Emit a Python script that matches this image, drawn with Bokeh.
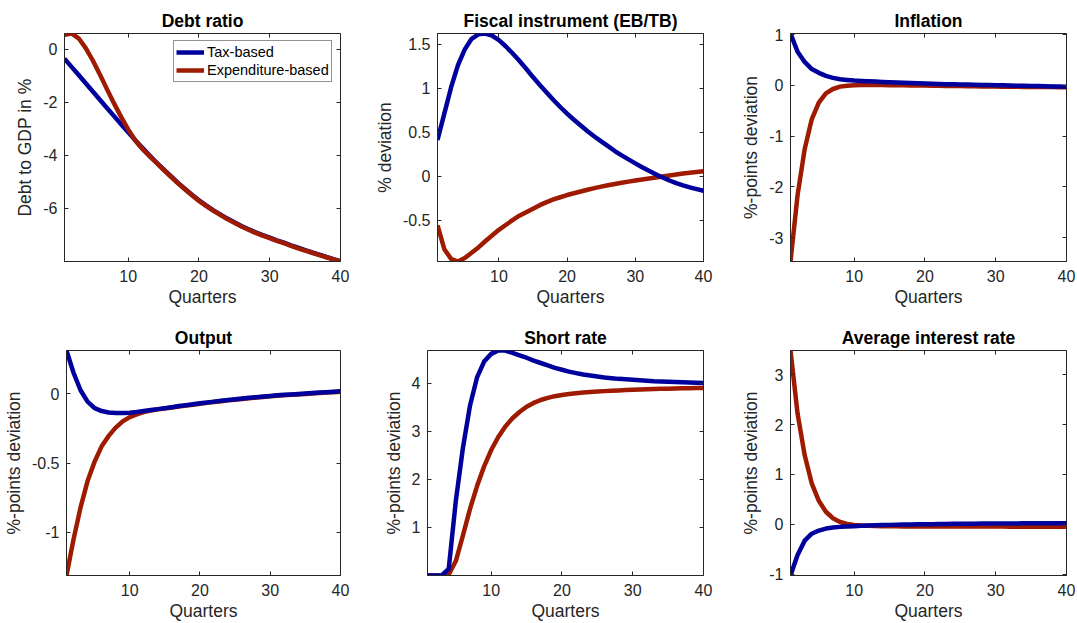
from bokeh.plotting import figure
from bokeh.models import Range1d, FixedTicker, LinearAxis, Legend, LegendItem
from bokeh.layouts import column, row
from bokeh.embed import file_html
from bokeh.resources import INLINE

# ---------------- data ----------------
quarters = list(range(1, 41))

debt_tax = [-0.35, -0.66, -0.97, -1.28, -1.59, -1.90, -2.21, -2.52, -2.83, -3.13,
            -3.43, -3.72, -4.00, -4.27, -4.53, -4.78, -5.03, -5.26, -5.49, -5.70,
            -5.89, -6.07, -6.23, -6.39, -6.53, -6.67, -6.79, -6.91, -7.01, -7.11,
            -7.21, -7.30, -7.40, -7.49, -7.58, -7.67, -7.75, -7.84, -7.92, -8.00]
debt_exp = [0.55, 0.60, 0.42, 0.05, -0.42, -0.95, -1.50, -2.04, -2.55, -3.02,
            -3.44, -3.76, -4.03, -4.29, -4.55, -4.80, -5.05, -5.28, -5.51, -5.72,
            -5.91, -6.09, -6.25, -6.41, -6.55, -6.69, -6.81, -6.93, -7.03, -7.13,
            -7.23, -7.32, -7.42, -7.51, -7.60, -7.68, -7.77, -7.85, -7.93, -8.01]

fiscal_tax = [0.41, 0.71, 1.01, 1.26, 1.44, 1.56, 1.61, 1.62, 1.595, 1.545,
              1.475, 1.395, 1.31, 1.22, 1.125, 1.035, 0.95, 0.865, 0.785, 0.71,
              0.64, 0.575, 0.51, 0.45, 0.395, 0.34, 0.285, 0.235, 0.19, 0.145,
              0.10, 0.06, 0.02, -0.015, -0.05, -0.08, -0.105, -0.128, -0.148, -0.167]
fiscal_exp = [-0.56, -0.83, -0.94, -0.97, -0.93, -0.87, -0.81, -0.74, -0.675, -0.61,
              -0.555, -0.50, -0.45, -0.41, -0.37, -0.33, -0.295, -0.265, -0.24, -0.215,
              -0.195, -0.175, -0.155, -0.137, -0.12, -0.104, -0.09, -0.076, -0.063, -0.05,
              -0.038, -0.027, -0.016, -0.004, 0.008, 0.019, 0.029, 0.038, 0.047, 0.055]

infl_tax = [1.02, 0.66, 0.46, 0.32, 0.245, 0.185, 0.146, 0.12, 0.106, 0.093,
            0.086, 0.08, 0.073, 0.066, 0.06, 0.054, 0.049, 0.044, 0.039, 0.035,
            0.031, 0.027, 0.023, 0.02, 0.017, 0.014, 0.011, 0.008, 0.005, 0.002,
            -0.001, -0.004, -0.007, -0.01, -0.013, -0.016, -0.019, -0.022, -0.025, -0.028]
infl_exp = [-3.47, -2.16, -1.26, -0.67, -0.34, -0.16, -0.073, -0.026, -0.007, 0.0,
            0.004, 0.005, 0.005, 0.004, 0.003, 0.002, 0.0, -0.002, -0.004, -0.006,
            -0.008, -0.01, -0.012, -0.014, -0.016, -0.018, -0.02, -0.022, -0.024, -0.026,
            -0.028, -0.03, -0.031, -0.032, -0.033, -0.034, -0.035, -0.036, -0.037, -0.038]

out_tax = [0.31, 0.15, 0.024, -0.058, -0.105, -0.126, -0.136, -0.14, -0.14, -0.138,
           -0.133, -0.126, -0.119, -0.112, -0.105, -0.098, -0.09, -0.084, -0.077, -0.07,
           -0.064, -0.058, -0.052, -0.046, -0.041, -0.036, -0.031, -0.026, -0.021, -0.017,
           -0.013, -0.009, -0.006, -0.003, 0.0, 0.004, 0.007, 0.01, 0.013, 0.016]
out_exp = [-1.31, -1.05, -0.82, -0.63, -0.49, -0.38, -0.305, -0.245, -0.20, -0.17,
           -0.15, -0.134, -0.122, -0.114, -0.107, -0.10, -0.093, -0.087, -0.08, -0.073,
           -0.067, -0.061, -0.055, -0.049, -0.044, -0.039, -0.034, -0.029, -0.024, -0.02,
           -0.016, -0.012, -0.009, -0.006, -0.003, 0.001, 0.004, 0.007, 0.01, 0.013]

short_tax = [0.0, 0.0, 0.0, 0.14, 1.55, 2.65, 3.53, 4.12, 4.45, 4.61,
             4.68, 4.68, 4.63, 4.58, 4.53, 4.47, 4.42, 4.37, 4.32, 4.28,
             4.24, 4.21, 4.18, 4.16, 4.14, 4.12, 4.105, 4.09, 4.08, 4.07,
             4.06, 4.05, 4.04, 4.035, 4.03, 4.025, 4.02, 4.015, 4.01, 4.005]
short_exp = [0.0, 0.0, 0.0, 0.02, 0.30, 0.83, 1.38, 1.86, 2.27, 2.61,
             2.88, 3.10, 3.27, 3.40, 3.51, 3.59, 3.65, 3.695, 3.73, 3.755,
             3.775, 3.79, 3.805, 3.815, 3.825, 3.835, 3.843, 3.85, 3.857, 3.863,
             3.868, 3.873, 3.878, 3.882, 3.886, 3.89, 3.893, 3.896, 3.899, 3.902]

avg_tax = [-1.03, -0.62, -0.33, -0.19, -0.127, -0.087, -0.067, -0.053, -0.047, -0.04,
           -0.033, -0.027, -0.022, -0.017, -0.013, -0.01, -0.007, -0.004, -0.002, 0.0,
           0.002, 0.004, 0.006, 0.008, 0.01, 0.011, 0.012, 0.013, 0.014, 0.015,
           0.016, 0.017, 0.017, 0.018, 0.018, 0.019, 0.019, 0.02, 0.02, 0.02]
avg_exp = [3.49, 2.22, 1.39, 0.82, 0.47, 0.25, 0.12, 0.047, 0.007, -0.013,
           -0.027, -0.033, -0.037, -0.04, -0.042, -0.043, -0.044, -0.045, -0.045, -0.046,
           -0.046, -0.046, -0.047, -0.047, -0.047, -0.047, -0.048, -0.048, -0.048, -0.048,
           -0.048, -0.049, -0.049, -0.049, -0.049, -0.049, -0.05, -0.05, -0.05, -0.05]

x_ticks = [10, 20, 30, 40]
series_names = ["Tax-based", "Expenditure-based"]
titles = ["Debt ratio", "Fiscal instrument (EB/TB)", "Inflation",
          "Output", "Short rate", "Average interest rate"]
ylabels = ["Debt to GDP in %", "% deviation", "%-points deviation",
           "%-points deviation", "%-points deviation", "%-points deviation"]
y_ticks = [[-6, -4, -2, 0], [-0.5, 0, 0.5, 1, 1.5], [-3, -2, -1, 0, 1],
           [-1, -0.5, 0], [1, 2, 3, 4], [-1, 0, 1, 2, 3]]

# ---------------- style ----------------
BLUE = "#00009c"
RED = "#9e1a00"
FONT = "Liberation Sans"
AX = "#262626"
LW = 4.5


def lbl(t):
    return f"{t:g}"


def make(i, tax, exp, width, height, left, right, top, bottom, red_on_top,
         xsd=8, xlsd=2, legend=False):
    ymin = min(min(tax), min(exp))
    ymax = max(max(tax), max(exp))
    p = figure(width=width, height=height, output_backend="svg", toolbar_location=None,
               x_range=Range1d(1, 40), y_range=Range1d(ymin, ymax),
               min_border_left=left, min_border_right=right,
               min_border_top=top, min_border_bottom=bottom)
    p.title.text = titles[i]
    p.title.text_font = FONT
    p.title.text_font_size = "17.5px"
    p.title.text_font_style = "bold"
    p.title.text_color = "#000000"
    p.title.align = "center"
    p.title.standoff = 5
    p.xgrid.visible = False
    p.ygrid.visible = False
    p.outline_line_color = AX
    p.outline_line_width = 1
    p.background_fill_color = "white"
    p.border_fill_color = "white"

    for ax, ticks, sd in ((p.xaxis[0], x_ticks, xsd), (p.yaxis[0], y_ticks[i], 7)):
        ax.ticker = FixedTicker(ticks=ticks)
        ax.major_label_overrides = {t: lbl(t) for t in ticks}
        ax.major_tick_in = 4
        ax.major_tick_out = 0
        ax.minor_tick_line_color = None
        ax.axis_line_color = AX
        ax.major_tick_line_color = AX
        ax.major_label_text_font = FONT
        ax.major_label_text_font_size = "16px"
        ax.major_label_text_color = AX
        ax.major_label_standoff = sd
        ax.axis_label_text_font = FONT
        ax.axis_label_text_font_size = "17.5px"
        ax.axis_label_text_font_style = "normal"
        ax.axis_label_text_color = AX
    p.xaxis.axis_label = "Quarters"
    p.xaxis.axis_label_standoff = xlsd
    p.yaxis.axis_label = ylabels[i]
    p.yaxis.axis_label_standoff = 5

    # inward ticks on the top and right edges of the box (no labels)
    for loc, ticks in (("above", x_ticks), ("right", y_ticks[i])):
        a = LinearAxis(ticker=FixedTicker(ticks=ticks))
        a.major_label_overrides = {t: "" for t in ticks}
        a.major_label_text_font_size = "0px"
        a.major_label_standoff = 0
        a.major_tick_in = 4
        a.major_tick_out = 0
        a.minor_tick_line_color = None
        a.axis_line_color = None
        a.major_tick_line_color = AX
        p.add_layout(a, loc)

    if red_on_top:
        rb = p.line(quarters, tax, line_color=BLUE, line_width=LW, line_join="round")
        rr = p.line(quarters, exp, line_color=RED, line_width=LW, line_join="round")
    else:
        rr = p.line(quarters, exp, line_color=RED, line_width=LW, line_join="round")
        rb = p.line(quarters, tax, line_color=BLUE, line_width=LW, line_join="round")

    if legend:
        lg = Legend(items=[LegendItem(label=series_names[0], renderers=[rb]),
                           LegendItem(label=series_names[1], renderers=[rr])],
                    location=(109, 179))
        lg.label_text_font = FONT
        lg.label_text_font_size = "14.5px"
        lg.label_text_color = "#000000"
        lg.label_height = 18
        lg.glyph_height = 18
        lg.glyph_width = 28
        lg.label_standoff = 3
        lg.padding = 2
        lg.spacing = 0
        lg.margin = 0
        lg.border_line_color = AX
        lg.border_line_width = 1
        lg.background_fill_alpha = 1
        p.add_layout(lg, "center")
    return p


H1, H2 = 311, 312
p1 = make(0, debt_tax, debt_exp, 371, H1, 64, 31, 33, 50, True, legend=True)
p2 = make(1, fiscal_tax, fiscal_exp, 363, H1, 56, 31, 33, 50, False)
p3 = make(2, infl_tax, infl_exp, 342, H1, 56, 10, 33, 50, False)
p4 = make(3, out_tax, out_exp, 371, H2, 64, 31, 39, 46, False)
p5 = make(4, short_tax, short_exp, 363, H2, 56, 31, 39, 46, False)
p6 = make(5, avg_tax, avg_exp, 342, H2, 56, 10, 39, 46, False)

layout = column(row(p1, p2, p3), row(p4, p5, p6))

open("out.html", "w").write(file_html(layout, INLINE))
